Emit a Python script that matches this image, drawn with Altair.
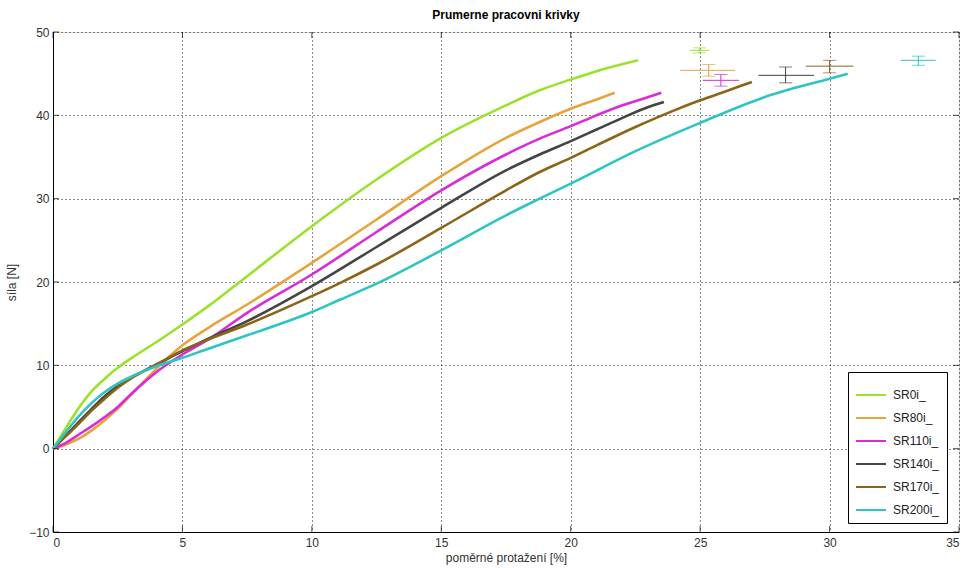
import altair as alt
import pandas as pd

# ---- data ----
series_names = ["SR0i_", "SR80i_", "SR110i_", "SR140i_", "SR170i_", "SR200i_"]
series_colors = ["#9be22d", "#e6a43c", "#d92bd9", "#444444", "#8c6418", "#2ec4c4"]

sr0_x = [0, 0.5, 1, 1.5, 2, 2.5, 3, 4, 5, 6, 7.5, 10, 12.5, 15, 17.5, 18.8, 20, 21, 22.6]
sr0_y = [0, 2.5, 4.9, 6.9, 8.4, 9.7, 10.8, 12.8, 14.9, 17.1, 20.7, 26.7, 32.3, 37.3, 41.2, 43.0, 44.3, 45.3, 46.6]

sr80_x = [0, 0.5, 1, 1.5, 2, 2.5, 3, 3.5, 4, 5, 6, 7.5, 10, 12.5, 15, 17.5, 18.8, 20, 21, 21.7]
sr80_y = [0, 0.5, 1.2, 2.2, 3.4, 4.8, 6.4, 8.0, 9.6, 12.4, 14.5, 17.3, 22.3, 27.5, 32.7, 37.3, 39.2, 40.8, 41.9, 42.7]

sr110_x = [0, 0.5, 1, 1.5, 2, 2.5, 3, 3.5, 4, 5, 6, 7.5, 10, 12.5, 15, 17.5, 18.8, 20, 21, 22, 23, 23.5]
sr110_y = [0, 0.7, 1.7, 2.7, 3.8, 5.0, 6.5, 7.9, 9.2, 11.3, 13.1, 16.3, 20.9, 26.0, 31.0, 35.3, 37.2, 38.7, 40.0, 41.2, 42.2, 42.7]

sr140_x = [0, 0.5, 1, 1.5, 2, 2.5, 3, 3.5, 4, 5, 6, 7.5, 10, 12.5, 15, 17.5, 18.8, 20, 21, 22, 23, 23.6]
sr140_y = [0, 1.6, 3.2, 4.8, 6.3, 7.5, 8.5, 9.3, 10.1, 11.7, 13.2, 15.3, 19.5, 24.2, 28.9, 33.4, 35.3, 36.9, 38.3, 39.7, 41.0, 41.6]

sr170_x = [0, 0.5, 1, 1.5, 2, 2.5, 3, 3.5, 4, 5, 6, 7.5, 10, 11.1, 12.5, 15, 17.5, 18.8, 20, 21, 22.5, 24, 25, 26, 27]
sr170_y = [0, 1.5, 3.0, 4.6, 6.0, 7.3, 8.4, 9.3, 10.1, 11.8, 13.1, 14.9, 18.3, 19.9, 22.1, 26.5, 31.0, 33.2, 34.9, 36.4, 38.6, 40.6, 41.8, 42.9, 44.0]

sr200_x = [0, 0.5, 1, 1.5, 2, 2.5, 3, 3.5, 4, 5, 6, 7.5, 10, 11.1, 12.5, 15, 17.5, 18.8, 20, 22.5, 25, 27.5, 30, 30.7]
sr200_y = [0, 2.0, 3.9, 5.5, 6.8, 7.8, 8.6, 9.3, 9.9, 10.9, 12.0, 13.6, 16.4, 17.9, 19.8, 23.8, 28.0, 30.0, 31.8, 35.7, 39.1, 42.2, 44.4, 45.0]

# error bars (mean point with x and y spread)
eb_x = [24.97, 25.33, 25.8, 28.3, 30.0, 33.43]
eb_y = [47.8, 45.4, 44.2, 44.8, 45.9, 46.6]
eb_xlo = [24.6, 24.23, 25.1, 27.25, 29.08, 32.75]
eb_xhi = [25.35, 26.35, 26.5, 29.4, 30.92, 34.1]
eb_ylo = [47.5, 44.7, 43.5, 43.9, 45.1, 46.0]
eb_yhi = [48.1, 46.1, 44.9, 45.8, 46.6, 47.1]

x_ticks = [0, 5, 10, 15, 20, 25, 30, 35]
y_ticks = [-10, 0, 10, 20, 30, 40, 50]

# ---- build tables ----
xs = [sr0_x, sr80_x, sr110_x, sr140_x, sr170_x, sr200_x]
ys = [sr0_y, sr80_y, sr110_y, sr140_y, sr170_y, sr200_y]
rows = []
for name, sx, sy in zip(series_names, xs, ys):
    for i, (a, b) in enumerate(zip(sx, sy)):
        rows.append({"series": name, "x": a, "y": b, "i": i})
curves = pd.DataFrame(rows)

eb = pd.DataFrame({
    "series": series_names, "x": eb_x, "y": eb_y,
    "xlo": eb_xlo, "xhi": eb_xhi, "ylo": eb_ylo, "yhi": eb_yhi,
})
xt = pd.DataFrame({"v": x_ticks})
yt = pd.DataFrame({"v": y_ticks})

FONT = "Liberation Sans"
xscale = alt.Scale(domain=[0, 35], nice=False, zero=False)
yscale = alt.Scale(domain=[-10, 50], nice=False, zero=False)
color = alt.Color(
    "series:N",
    scale=alt.Scale(domain=series_names, range=series_colors),
    sort=series_names,
    legend=alt.Legend(
        title=None, orient="none", legendX=795, legendY=340,
        symbolType="stroke", symbolSize=900, symbolStrokeWidth=2,
        labelFont=FONT, labelFontSize=12, labelColor="#222222",
        strokeColor="#000000", fillColor="#ffffff", padding=7,
        rowPadding=1, labelOffset=6, labelLimit=200,
    ),
)
color_nl = alt.Color("series:N", scale=alt.Scale(domain=series_names, range=series_colors), legend=None)

xaxis = alt.Axis(
    values=x_ticks, title="poměrné protažení [%]", grid=True,
    gridColor="#000000", gridDash=[1, 3], gridOpacity=0.9, gridWidth=1,
    domainColor="#000000", tickSize=0, labelPadding=5,
    labelFont=FONT, labelFontSize=12, labelColor="#333333",
    titleFont=FONT, titleFontSize=12, titleFontWeight="normal", titleColor="#333333",
    titlePadding=4,
)
yaxis = alt.Axis(
    values=y_ticks, title="síla [N]", grid=True,
    gridColor="#000000", gridDash=[1, 3], gridOpacity=0.9, gridWidth=1,
    domainColor="#000000", tickSize=0, labelPadding=4,
    labelFont=FONT, labelFontSize=12, labelColor="#333333",
    titleFont=FONT, titleFontSize=12, titleFontWeight="normal", titleColor="#333333",
    titlePadding=10,
)

lines = alt.Chart(curves).mark_line(strokeWidth=2.6, interpolate="monotone").encode(
    x=alt.X("x:Q", scale=xscale, axis=xaxis),
    y=alt.Y("y:Q", scale=yscale, axis=yaxis),
    color=color,
    order="i:Q",
)

eb_h = alt.Chart(eb).mark_rule(strokeWidth=1).encode(
    x="xlo:Q", x2="xhi:Q", y="y:Q", color=color_nl)
eb_v = alt.Chart(eb).mark_rule(strokeWidth=1).encode(
    x="x:Q", y="ylo:Q", y2="yhi:Q", color=color_nl)
eb_cap_lo = alt.Chart(eb).mark_tick(orient="horizontal", size=13, thickness=1).encode(
    x="x:Q", y="ylo:Q", color=color_nl)
eb_cap_hi = alt.Chart(eb).mark_tick(orient="horizontal", size=13, thickness=1).encode(
    x="x:Q", y="yhi:Q", color=color_nl)

# inward axis ticks on all four sides (MATLAB style box)
tk_bottom = alt.Chart(xt).mark_tick(orient="vertical", size=6, thickness=1, color="#000000", yOffset=-3).encode(
    x="v:Q", y=alt.datum(-10))
tk_top = alt.Chart(xt).mark_tick(orient="vertical", size=6, thickness=1, color="#000000", yOffset=3).encode(
    x="v:Q", y=alt.datum(50))
tk_left = alt.Chart(yt).mark_tick(orient="horizontal", size=6, thickness=1, color="#000000", xOffset=3).encode(
    y="v:Q", x=alt.datum(0))
tk_right = alt.Chart(yt).mark_tick(orient="horizontal", size=6, thickness=1, color="#000000", xOffset=-3).encode(
    y="v:Q", x=alt.datum(35))

chart = alt.layer(
    lines, eb_h, eb_v, eb_cap_lo, eb_cap_hi, tk_bottom, tk_top, tk_left, tk_right
).properties(
    width=906, height=500,
    title=alt.TitleParams("Prumerne pracovni krivky", font=FONT, fontSize=12,
                          fontWeight="bold", color="#000000", offset=4, anchor="middle"),
    autosize=alt.AutoSizeParams(type="none"),
    padding={"left": 53, "top": 32, "right": 5, "bottom": 36},
).configure_view(stroke="#000000", strokeWidth=1).configure(background="#ffffff")

chart.save("out.html", embed_options={"renderer": "svg", "actions": False})
